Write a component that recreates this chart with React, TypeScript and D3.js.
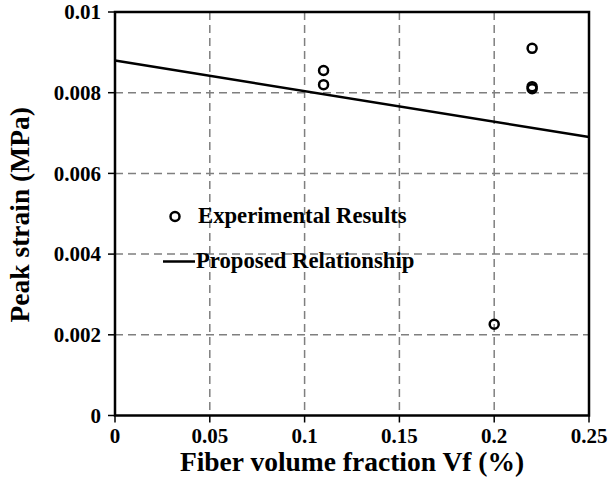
import React from "react";
import * as d3 from "d3";

// Experimental measurements: fiber volume fraction (%) vs peak strain
const expVf = [0.11, 0.11, 0.2, 0.22, 0.22, 0.22];
const expStrain = [0.00855, 0.0082, 0.00226, 0.0091, 0.00815, 0.0081];

// Proposed linear relationship endpoints
const lineVf = [0, 0.25];
const lineStrain = [0.0088, 0.0069];

const xTicks = [0, 0.05, 0.1, 0.15, 0.2, 0.25];
const xTickLabels = ["0", "0.05", "0.1", "0.15", "0.2", "0.25"];
const yTicks = [0, 0.002, 0.004, 0.006, 0.008, 0.01];
const yTickLabels = ["0", "0.002", "0.004", "0.006", "0.008", "0.01"];

const W = 609;
const H = 491;
const M = { left: 115, right: 20, top: 12, bottom: 75 };
const FONT = "'Liberation Serif', 'Times New Roman', serif";

export default function App() {
  const x = d3.scaleLinear().domain([0, 0.25]).range([M.left, W - M.right]);
  const y = d3.scaleLinear().domain([0, 0.01]).range([H - M.bottom - 0.5, M.top]);
  const line = d3
    .line<number>()
    .x((_, i) => x(lineVf[i]))
    .y((d) => y(d));

  const [x0, x1] = x.range();
  const [y0, y1] = y.range();

  return (
    <svg
      width={W}
      height={H}
      style={{ position: "absolute", left: 0, top: 0, background: "#fff" }}
      fontFamily={FONT}
      fontWeight="bold"
    >
      {/* dashed grid */}
      {xTicks.slice(1, -1).map((t) => (
        <line key={"gx" + t} x1={x(t)} x2={x(t)} y1={y1} y2={y0} stroke="#7f7f7f" strokeWidth={1.5} strokeDasharray="8,5" />
      ))}
      {yTicks.slice(1, -1).map((t) => (
        <line key={"gy" + t} x1={x0} x2={x1} y1={y(t)} y2={y(t)} stroke="#7f7f7f" strokeWidth={1.5} strokeDasharray="8,5" />
      ))}

      {/* proposed relationship */}
      <path d={line(lineStrain) || ""} fill="none" stroke="#000" strokeWidth={2.5} />

      {/* experimental points */}
      {expVf.map((v, i) => (
        <circle key={"p" + i} cx={x(v)} cy={y(expStrain[i])} r={4.5} fill="none" stroke="#000" strokeWidth={2.5} />
      ))}

      {/* frame */}
      <rect x={x0} y={y1} width={x1 - x0} height={y0 - y1} fill="none" stroke="#000" strokeWidth={2.5} />

      {/* y ticks */}
      {yTicks.map((t, i) => (
        <g key={"yt" + t}>
          <line x1={x0 - 7} x2={x0} y1={y(t)} y2={y(t)} stroke="#000" strokeWidth={1.5} />
          <text x={101} y={y(t)} dy="0.35em" textAnchor="end" fontSize={21}>
            {yTickLabels[i]}
          </text>
        </g>
      ))}

      {/* x ticks */}
      {xTicks.map((t, i) => (
        <g key={"xt" + t}>
          <line x1={x(t)} x2={x(t)} y1={y0} y2={y0 + 7} stroke="#000" strokeWidth={1.5} />
          <text x={x(t)} y={443} textAnchor="middle" fontSize={21}>
            {xTickLabels[i]}
          </text>
        </g>
      ))}

      {/* axis titles */}
      <text x={(x0 + x1) / 2} y={471} textAnchor="middle" fontSize={27.5}>
        Fiber volume fraction Vf (%)
      </text>
      <text transform={`translate(29,${(y0 + y1) / 2 + 1}) rotate(-90)`} textAnchor="middle" fontSize={27.5}>
        Peak strain (MPa)
      </text>

      {/* legend */}
      <circle cx={175} cy={216.5} r={4.5} fill="none" stroke="#000" strokeWidth={2.5} />
      <text x={198} y={223} fontSize={22.7}>
        Experimental Results
      </text>
      <line x1={163} x2={195} y1={261.5} y2={261.5} stroke="#000" strokeWidth={2.5} />
      <text x={196} y={268} fontSize={22.7}>
        Proposed Relationship
      </text>
    </svg>
  );
}
